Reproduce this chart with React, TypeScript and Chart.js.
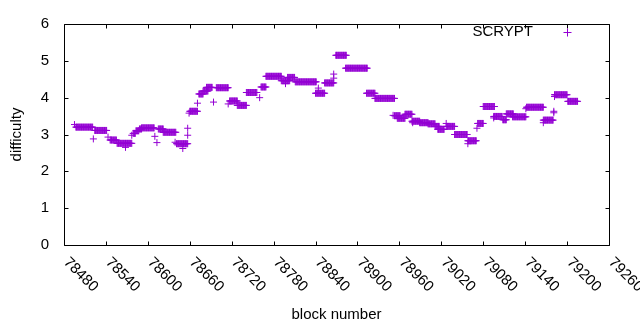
import React, { useEffect, useRef } from 'react';
import { Chart, registerables } from 'chart.js';

Chart.register(...registerables);

const seriesName = 'SCRYPT';
const xTitle = 'block number';
const yTitle = 'difficulty';

// Difficulty held constant over runs of blocks: [first block, last block, difficulty]
const segStart = [
  78495, 78497, 78522, 78524, 78543, 78546, 78556, 78568, 78577, 78579,
  78583, 78588, 78591, 78610, 78613, 78615, 78622, 78639, 78641, 78650,
  78657, 78657, 78659, 78660, 78671, 78673, 78679, 78684, 78694, 78698,
  78715, 78717, 78728, 78741, 78760, 78762, 78769, 78791, 78797, 78800,
  78811, 78840, 78844, 78853, 78866, 78866, 78869, 78883, 78913, 78925,
  78951, 78953, 78957, 78968, 78979, 78978, 78989, 79001, 79011, 79015,
  79027, 79027, 79039, 79058, 79058, 79071, 79072, 79080, 79095, 79095,
  79108, 79113, 79122, 79141, 79142, 79166, 79166, 79181, 79181, 79182,
  79182, 79201,
];
const segEnd = [
  78495, 78521, 78522, 78541, 78543, 78555, 78577, 78568, 78577, 78582,
  78587, 78591, 78609, 78610, 78613, 78622, 78640, 78639, 78657, 78650,
  78657, 78657, 78659, 78671, 78671, 78679, 78686, 78692, 78694, 78715,
  78715, 78728, 78741, 78756, 78760, 78769, 78791, 78803, 78797, 78810,
  78841, 78853, 78844, 78866, 78866, 78866, 78884, 78914, 78925, 78953,
  78951, 78961, 78968, 78978, 78979, 78989, 79001, 79011, 79017, 79024,
  79027, 79039, 79057, 79058, 79070, 79071, 79080, 79096, 79095, 79107,
  79113, 79123, 79141, 79141, 79166, 79166, 79180, 79181, 79181, 79182,
  79200, 79215,
];
const segValue = [
  3.27, 3.2, 2.88, 3.11, 2.93, 2.85, 2.76, 2.65, 2.98, 3.03,
  3.1, 3.15, 3.18, 2.95, 2.78, 3.15, 3.06, 2.79, 2.75, 2.62,
  3.17, 2.98, 3.58, 3.63, 3.85, 4.1, 4.18, 4.28, 3.88, 4.27,
  3.83, 3.91, 3.79, 4.14, 4.0, 4.29, 4.58, 4.46, 4.38, 4.55,
  4.43, 4.12, 4.26, 4.4, 4.64, 4.53, 5.15, 4.8, 4.12, 3.98,
  3.52, 3.51, 3.44, 3.55, 3.32, 3.36, 3.32, 3.29, 3.22, 3.14,
  3.3, 3.22, 3.0, 2.75, 2.83, 3.17, 3.3, 3.76, 3.45, 3.49,
  3.4, 3.56, 3.48, 3.7, 3.74, 3.32, 3.39, 3.63, 3.59, 4.03,
  4.08, 3.9,
];

const xTickValues = [
  78480, 78540, 78600, 78660, 78720, 78780, 78840, 78900, 78960, 79020,
  79080, 79140, 79200, 79260,
];
const yTickValues = [0, 1, 2, 3, 4, 5, 6];

const COLOR = '#9400D3';
const FONT = '"Liberation Sans", Arial, sans-serif';
const FONT_SIZE = 15;

function buildPoints() {
  const pts: { x: number; y: number }[] = [];
  for (let i = 0; i < segStart.length; i++) {
    for (let b = segStart[i]; b <= segEnd[i]; b++) {
      pts.push({ x: b, y: segValue[i] });
    }
  }
  return pts;
}

const framePlugin = {
  id: 'gnuFrame',
  afterDatasetsDraw(chart: any) {
    const { ctx, chartArea: a, scales } = chart;
    const xs = scales.x;
    const ys = scales.y;
    const L = Math.round(a.left) + 0.5;
    const R = Math.round(a.right) + 0.5;
    const T = Math.round(a.top) + 0.5;
    const B = Math.round(a.bottom) + 0.5;
    const tl = 4;
    ctx.save();
    ctx.strokeStyle = '#000';
    ctx.lineWidth = 1;
    ctx.beginPath();
    ctx.rect(L, T, R - L, B - T);
    for (const v of xTickValues) {
      const px = Math.round(xs.getPixelForValue(v)) + 0.5;
      ctx.moveTo(px, B);
      ctx.lineTo(px, B - tl);
      ctx.moveTo(px, T);
      ctx.lineTo(px, T + tl);
    }
    for (const v of yTickValues) {
      const py = Math.round(ys.getPixelForValue(v)) + 0.5;
      ctx.moveTo(L, py);
      ctx.lineTo(L + tl, py);
      ctx.moveTo(R, py);
      ctx.lineTo(R - tl, py);
    }
    ctx.stroke();

    // rotated x tick labels (reading downward to the right)
    ctx.fillStyle = '#000';
    ctx.font = `${FONT_SIZE}px ${FONT}`;
    ctx.textAlign = 'left';
    ctx.textBaseline = 'middle';
    for (const v of xTickValues) {
      const px = xs.getPixelForValue(v);
      ctx.save();
      ctx.translate(px + 2, a.bottom + 15);
      ctx.rotate(Math.PI / 4);
      ctx.fillText(String(v), 0, 0);
      ctx.restore();
    }

    // legend (text then marker, gnuplot style)
    const ly = 32;
    ctx.textAlign = 'right';
    ctx.fillText(seriesName, 533, ly);
    ctx.strokeStyle = COLOR;
    ctx.beginPath();
    ctx.moveTo(563.5, ly + 0.5);
    ctx.lineTo(571.5, ly + 0.5);
    ctx.moveTo(567.5, ly - 3.5);
    ctx.lineTo(567.5, ly + 4.5);
    ctx.stroke();
    ctx.restore();
  },
};

export default function App() {
  const ref = useRef<HTMLCanvasElement | null>(null);
  useEffect(() => {
    if (!ref.current) return;
    const chart = new Chart(ref.current, {
      type: 'scatter',
      data: {
        datasets: [
          {
            label: seriesName,
            data: buildPoints(),
            pointStyle: 'cross',
            pointRadius: 3.5,
            pointHoverRadius: 3.5,
            borderColor: COLOR,
            backgroundColor: COLOR,
            borderWidth: 1,
            showLine: false,
          },
        ],
      },
      options: {
        responsive: false,
        animation: false,
        events: [],
        layout: { padding: { top: 19, right: 31, bottom: 0, left: 0 } },
        plugins: {
          legend: { display: false },
          tooltip: { enabled: false },
        },
        scales: {
          x: {
            type: 'linear',
            min: 78480,
            max: 79260,
            grid: { display: false, drawTicks: false },
            border: { display: false },
            ticks: { display: false },
            title: {
              display: true,
              text: xTitle,
              color: '#000',
              font: { family: FONT, size: FONT_SIZE },
              padding: { top: 0, bottom: 6 },
            },
            afterFit: (s: any) => {
              s.height = 85;
            },
          },
          y: {
            min: 0,
            max: 6,
            grid: { display: false, drawTicks: false },
            border: { display: false },
            ticks: {
              stepSize: 1,
              padding: 15,
              color: '#000',
              font: { family: FONT, size: FONT_SIZE },
            },
            title: {
              display: true,
              text: yTitle,
              color: '#000',
              font: { family: FONT, size: FONT_SIZE },
              padding: { top: 8, bottom: 0 },
            },
            afterFit: (s: any) => {
              s.width = 64;
            },
          },
        },
      },
      plugins: [framePlugin],
    });
    return () => chart.destroy();
  }, []);
  return (
    <div style={{ position: 'absolute', left: 0, top: 0, width: 640, height: 330, background: '#fff' }}>
      <canvas ref={ref} width={640} height={330} />
    </div>
  );
}
